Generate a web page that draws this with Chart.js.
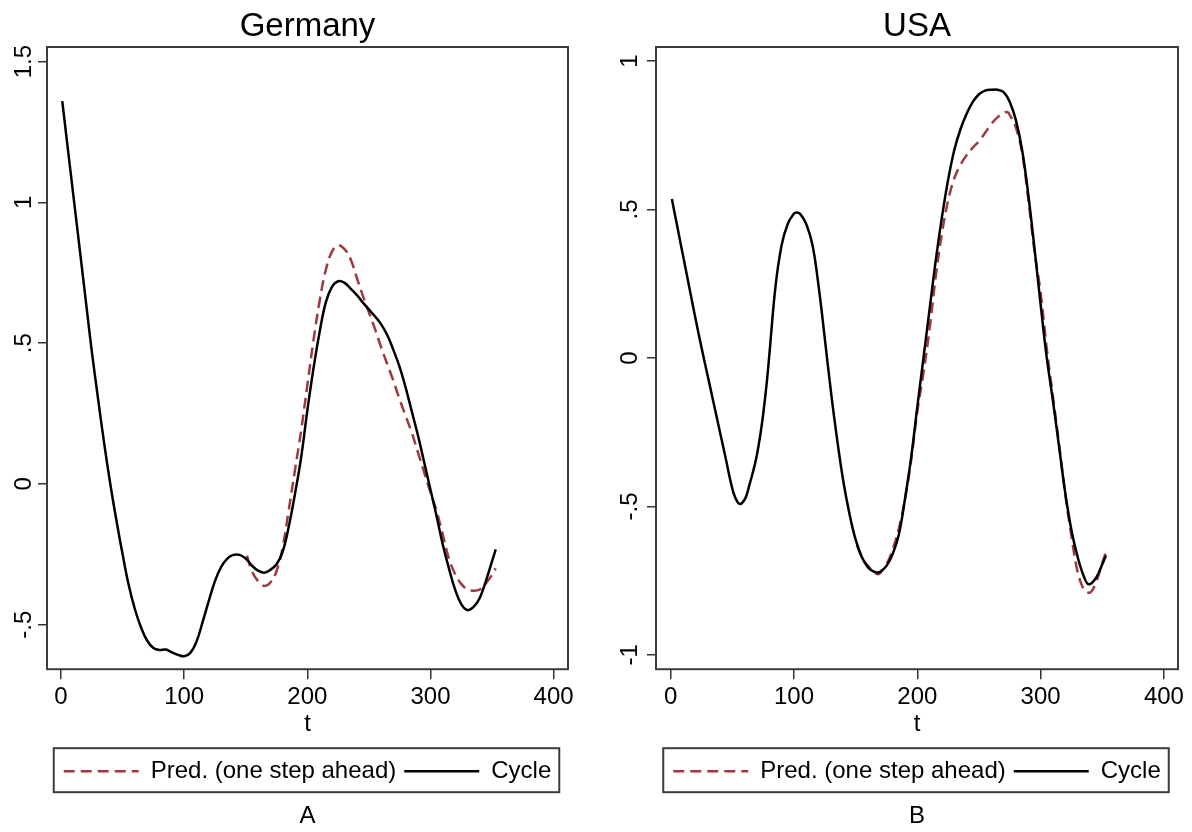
<!DOCTYPE html>
<html>
<head>
<meta charset="utf-8">
<script src="https://cdn.jsdelivr.net/npm/chart.js@4.4.1/dist/chart.umd.min.js"></script>
<style>
  html, body { margin: 0; padding: 0; background: #fff; overflow: hidden; width: 1192px; height: 832px; }
  .panel { position: absolute; top: 0; height: 832px; }
  #panelA { left: 0; width: 615px; }
  #panelB { left: 600px; width: 634px; }
</style>
</head>
<body>
<div class="panel" id="panelA"><canvas id="germanyChart"></canvas></div>
<div class="panel" id="panelB"><canvas id="usaChart"></canvas></div>
<script>
// series
const seriesLabels = ["Pred. (one step ahead)", "Cycle"];

const xTicks = [0, 100, 200, 300, 400];
const xTickLabels = ["0", "100", "200", "300", "400"];

const germanyYTicks = [-0.5, 0, 0.5, 1, 1.5];
const germanyYTickLabels = ["-.5", "0", ".5", "1", "1.5"];
const usaYTicks = [-1, -0.5, 0, 0.5, 1];
const usaYTickLabels = ["-1", "-.5", "0", ".5", "1"];

const germanyT = [1, 5, 10, 15, 20, 25, 30, 35, 40, 45, 50, 55, 60, 65, 70, 75, 80, 85, 90, 95,
  100, 105, 110, 115, 120, 125, 130, 135, 140, 145, 150, 155, 160, 165, 170, 175, 180, 185, 190, 195,
  200, 205, 210, 215, 220, 225, 230, 235, 240, 245, 250, 255, 260, 265, 270, 275, 280, 285, 290, 295,
  300, 305, 310, 315, 320, 325, 330, 335, 340, 345, 350, 353];
const germanyCycle = [1.36, 1.21, 1.025, 0.84, 0.655, 0.47, 0.305, 0.145, 0.0, -0.13, -0.25, -0.36, -0.445, -0.51, -0.557, -0.583, -0.59, -0.588, -0.598, -0.607,
  -0.612, -0.6, -0.56, -0.49, -0.415, -0.345, -0.295, -0.265, -0.252, -0.252, -0.265, -0.29, -0.308, -0.315, -0.305, -0.285, -0.24, -0.15, -0.035, 0.095,
  0.26, 0.41, 0.54, 0.645, 0.70, 0.72, 0.715, 0.695, 0.672, 0.645, 0.62, 0.595, 0.567, 0.528, 0.475, 0.415, 0.34, 0.255, 0.17, 0.075,
  -0.02, -0.115, -0.215, -0.30, -0.375, -0.427, -0.448, -0.437, -0.405, -0.345, -0.275, -0.232];

const germanyPredT = [151, 155, 160, 165, 170, 175, 180, 185, 190, 195, 200, 205, 210, 215, 220, 225, 230, 235, 240, 245,
  250, 255, 260, 265, 270, 275, 280, 285, 290, 295, 300, 305, 310, 315, 320, 325, 330, 335, 340, 345, 350, 353];
const germanyPred = [-0.255, -0.31, -0.345, -0.362, -0.35, -0.31, -0.225, -0.09, 0.05, 0.19, 0.35, 0.51, 0.65, 0.76, 0.825, 0.848, 0.835, 0.80, 0.735, 0.67,
  0.61, 0.55, 0.485, 0.425, 0.365, 0.30, 0.24, 0.18, 0.11, 0.04, -0.03, -0.096, -0.18, -0.265, -0.32, -0.355, -0.375, -0.379, -0.375, -0.353, -0.323, -0.30];

const usaT = [1, 5, 10, 15, 20, 25, 30, 35, 40, 45, 48, 51, 54, 56, 58, 61, 64, 67, 70, 73, 75, 78, 80, 85, 90, 95,
  100, 102, 105, 110, 115, 120, 125, 130, 135, 140, 145, 150, 155, 160, 165, 168, 170, 175, 180, 185, 190, 195,
  200, 205, 210, 215, 220, 225, 230, 235, 240, 245, 250, 255, 260, 265, 270, 275, 280, 285, 290, 295,
  300, 305, 310, 315, 320, 325, 330, 335, 339, 345, 350, 353];
const usaCycle = [0.535, 0.45, 0.345, 0.24, 0.135, 0.035, -0.06, -0.155, -0.25, -0.345, -0.405, -0.455, -0.484, -0.492, -0.488, -0.468, -0.425, -0.38, -0.325, -0.25, -0.19, -0.08, 0.01, 0.24, 0.38, 0.452,
  0.486, 0.49, 0.485, 0.45, 0.38, 0.24, 0.065, -0.115, -0.275, -0.415, -0.525, -0.612, -0.67, -0.705, -0.72, -0.722, -0.72, -0.70, -0.66, -0.595, -0.475, -0.335,
  -0.165, 0.0, 0.165, 0.33, 0.475, 0.60, 0.70, 0.77, 0.822, 0.862, 0.888, 0.90, 0.903, 0.903, 0.895, 0.862, 0.80, 0.70, 0.55, 0.37,
  0.18, 0.0, -0.145, -0.30, -0.455, -0.58, -0.67, -0.735, -0.762, -0.74, -0.695, -0.665];

const usaPredT = [151, 155, 160, 165, 168, 170, 175, 180, 185, 190, 195, 200, 205, 210, 215, 220, 225, 230, 235, 240,
  245, 250, 255, 260, 265, 270, 273, 275, 280, 285, 290, 295, 300, 305, 310, 315, 320, 325, 330, 335, 338, 341, 345, 350, 353];
const usaPred = [-0.63, -0.67, -0.70, -0.722, -0.728, -0.724, -0.695, -0.645, -0.575, -0.475, -0.345, -0.18, -0.05, 0.1, 0.275, 0.42, 0.53, 0.605, 0.65, 0.683,
  0.708, 0.73, 0.758, 0.788, 0.81, 0.825, 0.828, 0.818, 0.775, 0.69, 0.535, 0.36, 0.22, 0.03, -0.13, -0.29, -0.46, -0.60, -0.72, -0.78, -0.79, -0.787, -0.755, -0.69, -0.655];

Chart.defaults.font.family = '"Liberation Sans", Arial, Helvetica, sans-serif';
Chart.defaults.color = "#000";

function toPoints(xs, ys) {
  return xs.map((x, i) => ({ x: x, y: ys[i] }));
}

// box around plot region and around the legend
const stataFrame = {
  id: "stataFrame",
  afterDatasetsDraw(chart) {
    const a = chart.chartArea;
    const ctx = chart.ctx;
    ctx.save();
    ctx.strokeStyle = "#3c3c3c";
    ctx.lineWidth = 2;
    ctx.strokeRect(a.left, a.top, a.right - a.left, a.bottom - a.top);
    ctx.restore();
  },
  afterDraw(chart) {
    const lg = chart.legend;
    if (!lg || !lg.legendHitBoxes || !lg.legendHitBoxes.length) return;
    const hb = lg.legendHitBoxes;
    const last = hb[hb.length - 1];
    const left = hb[0].left - 10;
    const right = last.left + last.width + 8;
    const ctx = chart.ctx;
    ctx.save();
    ctx.strokeStyle = "#3c3c3c";
    ctx.lineWidth = 2;
    ctx.strokeRect(left, lg.top - 3, right - left, lg.bottom - lg.top + 2);
    ctx.restore();
  },
};

// legend samples: take dash and width from the line, not from the point style
function legendLabels(chart) {
  const items = Chart.defaults.plugins.legend.labels.generateLabels(chart);
  items.forEach((it) => {
    const ds = chart.data.datasets[it.datasetIndex];
    it.lineDash = ds.borderDash || [];
    it.lineWidth = ds.borderWidth;
    it.strokeStyle = ds.borderColor;
  });
  return items;
}

function makePanel(id, o) {
  return new Chart(document.getElementById(id), {
    type: "line",
    data: {
      datasets: [
        {
          label: seriesLabels[0],
          data: toPoints(o.predT, o.pred),
          borderColor: "#9e3a3f",
          borderWidth: 2.5,
          borderDash: [11, 6],
          pointRadius: 0,
          fill: false,
          tension: 0.4,
          order: 2,
        },
        {
          label: seriesLabels[1],
          data: toPoints(o.t, o.cycle),
          borderColor: "#000",
          borderWidth: 2.5,
          pointRadius: 0,
          fill: false,
          tension: 0.4,
          order: 1,
        },
      ],
    },
    options: {
      responsive: true,
      maintainAspectRatio: false,
      animation: false,
      events: [],
      layout: { padding: 0 },
      scales: {
        x: {
          type: "linear",
          min: o.xMin,
          max: o.xMax,
          afterBuildTicks: (s) => { s.ticks = xTicks.map((v) => ({ value: v })); },
          afterFit: (s) => { s.height = 82; },
          grid: { display: true, drawOnChartArea: false, drawTicks: true, tickLength: 10, color: "#333", lineWidth: 1.5 },
          border: { display: false },
          ticks: { autoSkip: false, maxRotation: 0, padding: 4, font: { size: 24 }, callback: (v, i) => xTickLabels[i] },
          title: { display: true, text: "t", font: { size: 24 }, padding: { top: 0, bottom: 12 } },
        },
        y: {
          type: "linear",
          position: "left",
          min: o.yMin,
          max: o.yMax,
          afterBuildTicks: (s) => { s.ticks = o.yTicks.map((v) => ({ value: v })); },
          afterFit: (s) => { s.width = o.yWidth; },
          grid: { display: true, drawOnChartArea: false, drawTicks: true, tickLength: 9, color: "#333", lineWidth: 1.5 },
          border: { display: false },
          ticks: {
            autoSkip: false,
            minRotation: 90,
            maxRotation: 90,
            crossAlign: "center",
            padding: o.yPad,
            font: { size: 24 },
            callback: (v, i) => o.yTickLabels[i],
          },
        },
        yR: {
          type: "linear",
          axis: "y",
          position: "right",
          display: true,
          grid: { display: false },
          border: { display: false },
          ticks: { display: false },
          afterFit: (s) => { s.width = o.rWidth; },
        },
      },
      plugins: {
        title: {
          display: true,
          text: o.title,
          font: { size: 33, weight: "normal" },
          padding: { top: 7.4, bottom: 0 },
        },
        subtitle: {
          display: true,
          text: o.tag,
          position: "bottom",
          font: { size: 24, weight: "normal" },
          padding: { top: 9, bottom: 1 },
        },
        legend: {
          position: "bottom",
          labels: {
            usePointStyle: true,
            pointStyle: "line",
            pointStyleWidth: 75,
            padding: 8,
            font: { size: 24 },
            color: "#000",
            generateLabels: legendLabels,
            sort: (a, b) => a.datasetIndex - b.datasetIndex,
          },
        },
        tooltip: { enabled: false },
      },
    },
    plugins: [stataFrame],
  });
}

makePanel("germanyChart", {
  title: "Germany", tag: "A",
  t: germanyT, cycle: germanyCycle, predT: germanyPredT, pred: germanyPred,
  xMin: -11.4, xMax: 411.7,
  yMin: -0.658, yMax: 1.552, yTicks: germanyYTicks, yTickLabels: germanyYTickLabels,
  yWidth: 47, rWidth: 47, yPad: -3,
});

makePanel("usaChart", {
  title: "USA", tag: "B",
  t: usaT, cycle: usaCycle, predT: usaPredT, pred: usaPred,
  xMin: -11.9, xMax: 411.4,
  yMin: -1.048, yMax: 1.047, yTicks: usaYTicks, yTickLabels: usaYTickLabels,
  yWidth: 56, rWidth: 56, yPad: 3,
});
</script>
</body>
</html>
